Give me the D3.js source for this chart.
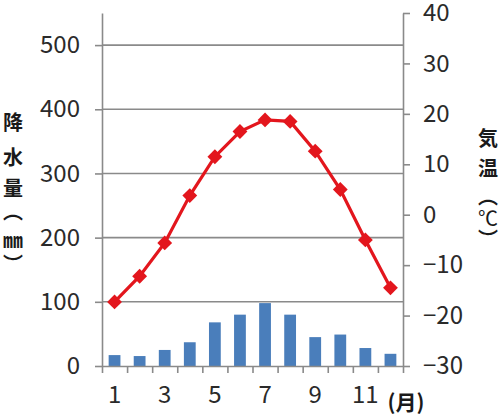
<!DOCTYPE html>
<html><head><meta charset="utf-8">
<script src="https://cdn.jsdelivr.net/npm/d3@7"></script>
<style>
html,body{margin:0;padding:0;background:#fff;}
svg{display:block;}
text{font-family:"Noto Sans CJK JP","Noto Sans",sans-serif;}
</style></head>
<body>
<svg id="c" width="500" height="419"></svg>
<script>
const months = [1,2,3,4,5,6,7,8,9,10,11,12];
const monthLabels = ["1","","3","","5","","7","","9","","11",""];
const precipitation = [17,15.5,25,37,68,80,98,80,45,49,28,19];
const temperature = [-17.3,-12.2,-5.6,3.8,11.5,16.5,18.8,18.5,12.6,5.0,-5.0,-14.5];
const precipTicks = [0,100,200,300,400,500];
const tempTicks = [-30,-20,-10,0,10,20,30,40];
const leftTitle = ["降","水","量","︵","㎜","︶"];
const rightTitle = ["気","温","︵","℃","︶"];

const svg = d3.select("#c");
const L = 102, R = 403, T = 13, B = 366;
const gray = "#8a8a8a";

const yL = d3.scaleLinear().domain([0,550]).range([B,T]);
const yR = d3.scaleLinear().domain([-30,40]).range([B,T]);
const x = d3.scaleBand().domain(months).range([L,R]).paddingInner(0.53).paddingOuter(0.265);
const xb = d3.scaleLinear().domain([0,12]).range([L,R]);

svg.append("g").selectAll("line").data(precipTicks.filter(d=>d>0)).join("line")
  .attr("x1",L).attr("x2",R).attr("y1",d=>yL(d)).attr("y2",d=>yL(d))
  .attr("stroke",gray).attr("stroke-width",1.6);

svg.append("g").selectAll("rect").data(months).join("rect")
  .attr("x",d=>x(d)).attr("width",x.bandwidth())
  .attr("y",(d,i)=>yL(precipitation[i])).attr("height",(d,i)=>B-yL(precipitation[i]))
  .attr("fill","#4a7ebb");

function styleAxis(g){
  g.selectAll("path,line").attr("stroke",gray).attr("stroke-width",1.6);
  g.selectAll("text").attr("font-size",24).attr("fill","#2a2a2a");
}
svg.append("g").attr("transform",`translate(${L},0)`)
  .call(d3.axisLeft(yL).tickValues(precipTicks).tickSize(7).tickSizeOuter(0).tickPadding(15))
  .call(styleAxis);
svg.append("g").attr("transform",`translate(${R},0)`)
  .call(d3.axisRight(yR).tickValues(tempTicks).tickSize(7).tickSizeOuter(0).tickPadding(13))
  .call(styleAxis);
svg.append("g").attr("transform",`translate(0,${B})`)
  .call(d3.axisBottom(xb).tickValues(d3.range(13)).tickSize(7).tickSizeOuter(0).tickFormat(""))
  .call(styleAxis);
svg.append("g").selectAll("text").data(months).join("text")
  .attr("x",d=>x(d)+x.bandwidth()/2).attr("y",403)
  .attr("text-anchor","middle").attr("font-size",24).attr("fill","#2a2a2a")
  .text((d,i)=>monthLabels[i]);

const line = d3.line().x(d=>x(d.m)+x.bandwidth()/2).y(d=>yR(d.t));
const tdata = months.map((m,i)=>({m,t:temperature[i]}));
svg.append("path").datum(tdata).attr("d",line)
  .attr("fill","none").attr("stroke","#e3161d").attr("stroke-width",3.2);
svg.append("g").selectAll("path").data(tdata).join("path")
  .attr("d",d3.symbol(d3.symbolSquare,110))
  .attr("transform",d=>`translate(${x(d.m)+x.bandwidth()/2},${yR(d.t)}) rotate(45)`)
  .attr("fill","#e3161d");

function vtitle(chars, cx, ys){
  svg.append("g").selectAll("text").data(chars).join("text")
    .attr("x",cx).attr("y",(d,i)=>ys[i])
    .attr("text-anchor","middle").attr("dominant-baseline","central")
    .attr("font-size",20).attr("font-weight",d=>d==="℃"?400:700)
    .attr("fill","#1a1a1a").text(d=>d);
}
vtitle(leftTitle, 13, [121,156,187,210,239,263]);
vtitle(rightTitle, 488, [137,167,195,217,238]);

svg.append("text").attr("x",406).attr("y",401).attr("text-anchor","middle")
  .attr("dominant-baseline","central").attr("font-size",21).attr("font-weight",700)
  .attr("fill","#1a1a1a").text("(月)");
</script>
</body></html>
